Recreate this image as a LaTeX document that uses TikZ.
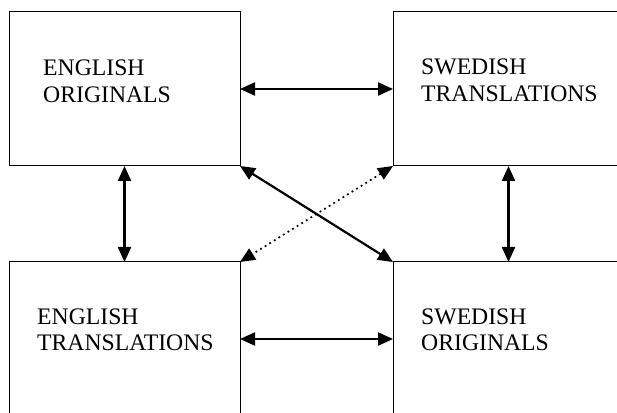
\documentclass[tikz,border=0pt]{standalone}
\usepackage{fontspec}
\setmainfont{Liberation Serif}
\usetikzlibrary{arrows.meta}
\begin{document}
\begin{tikzpicture}[x=1pt,y=1pt,
  box/.style={draw, line width=1pt, minimum width=231pt, minimum height=154pt, inner sep=0pt, outer sep=0pt},
  lbl/.style={anchor=base west, inner sep=0pt, text width=220pt, align=left, font=\fontsize{23.7}{26.5}\selectfont},
  link/.style={line width=2.2pt, {Triangle[length=15pt,width=13pt]}-{Triangle[length=15pt,width=13pt]}},
  dotlink/.style={line width=1.7pt, dash pattern=on 1.8pt off 3.6pt, {Triangle[length=15pt,width=13pt]}-{Triangle[length=15pt,width=13pt]}}]
\useasboundingbox (0,0) rectangle (617,412);
\clip (0,0) rectangle (617,412);
\fill[white] (0,0) rectangle (617,412);
\node[box] (eo) at (124.5,323) {};
\node[box] (st) at (508.5,323) {};
\node[box] (et) at (124.5,73) {};
\node[box] (so) at (508.5,73) {};
\node[lbl] (eoT) at (43,336) {ENGLISH\\ORIGINALS};
\node[lbl] (stT) at (421,337) {SWEDISH\\TRANSLATIONS};
\node[lbl] (etT) at (37,88) {ENGLISH\\TRANSLATIONS};
\node[lbl] (soT) at (421,88) {SWEDISH\\ORIGINALS};
\draw[link] (eo.east) -- (st.west);
\draw[link] (et.east) -- (so.west);
\draw[link] (eo.south) -- (et.north);
\draw[link] (st.south) -- (so.north);
\draw[link] (eo.south east) -- (so.north west);
\draw[dotlink] (st.south west) -- (et.north east);
\end{tikzpicture}
\end{document}
